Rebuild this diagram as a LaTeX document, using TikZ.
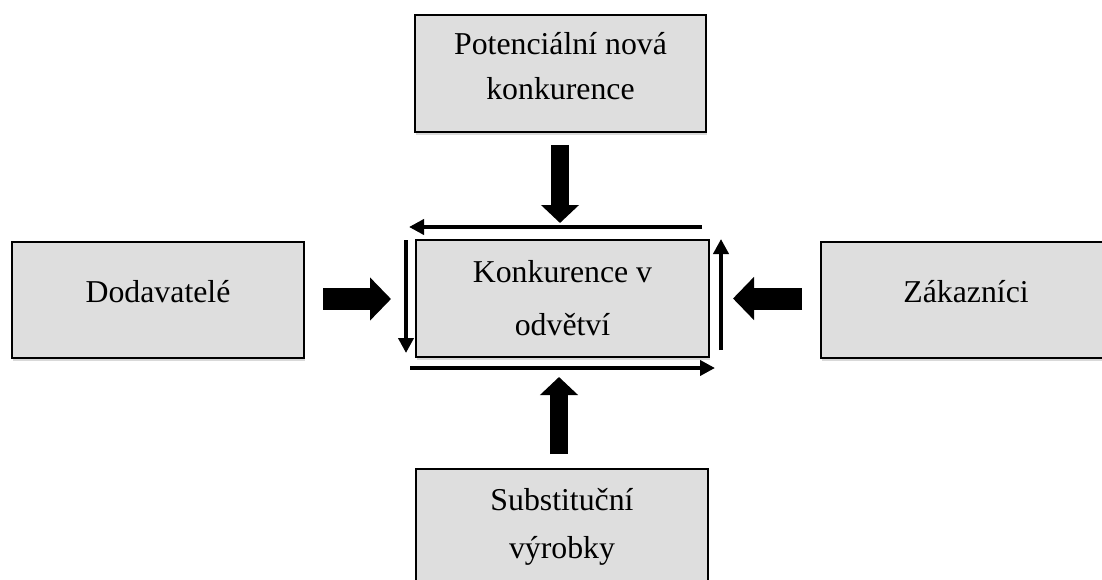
\documentclass[tikz,border=0pt]{standalone}
\usepackage{fontspec}
\setmainfont{Liberation Serif}
\usetikzlibrary{arrows.meta,shadows}
\definecolor{boxgray}{RGB}{222,222,222}
\tikzset{
  box/.style={draw=black, line width=1.6pt, fill=boxgray, inner sep=0pt,
    drop shadow={shadow xshift=1pt, shadow yshift=-3pt, opacity=0.3, fill=gray}},
  txt/.style={font=\fontsize{31.8}{38}\selectfont, inner sep=0pt, anchor=base},
  thinarrow/.style={line width=4pt, -{Triangle[length=15pt,width=15pt]}},
  bigv/.style={line width=18pt, -{Triangle[length=18pt,width=37pt]}},
  bigh/.style={line width=22pt, -{Triangle[length=21pt,width=42pt]}},
}
\begin{document}
\begin{tikzpicture}[x=1pt,y=-1pt]
\useasboundingbox (0,0) rectangle (1102,580);
\begin{scope}
\clip (0,0) rectangle (1102,580);
% boxes
\node[box, minimum width=291pt, minimum height=117pt] (top) at (560.5,73.5) {};
\node[box, minimum width=293pt, minimum height=117pt] (mid) at (562.5,298.5) {};
\node[box, minimum width=292pt, minimum height=116pt] (left) at (158,300) {};
\node[box, minimum width=291pt, minimum height=116pt] (right) at (966.5,300) {};
\node[box, minimum width=292pt, minimum height=117pt] (bot) at (562,527.5) {};
\end{scope}
% texts
\node[txt] (top1) at (560.5,55) {Potenciální nová};
\node[txt] (top2) at (560.5,100) {konkurence};
\node[txt] (mid1) at (562.5,282) {Konkurence v};
\node[txt] (mid2) at (562.5,335) {odvětví};
\node[txt] (leftt) at (158,302) {Dodavatelé};
\node[txt] (rightt) at (966,302) {Zákazníci};
\node[txt] (bot1) at (562,510) {Substituční};
\node[txt] (bot2) at (562,558) {výrobky};
% thick arrows
\coordinate (tS) at (560,145);   \coordinate (tE) at (560,223);
\coordinate (lS) at (323,299);   \coordinate (lE) at (391,299);
\coordinate (rS) at (802,298.5); \coordinate (rE) at (733,298.5);
\coordinate (bS) at (559,454);   \coordinate (bE) at (559,377);
\draw[bigv] (tS) -- (tE);
\draw[bigh] (lS) -- (lE);
\draw[bigh] (rS) -- (rE);
\draw[bigv] (bS) -- (bE);
% thin circulating arrows
\coordinate (a1) at (702,227); \coordinate (a2) at (409,227);
\coordinate (b1) at (406,240); \coordinate (b2) at (406,353);
\coordinate (c1) at (410,368); \coordinate (c2) at (715,368);
\coordinate (d1) at (721,350); \coordinate (d2) at (721,239);
\draw[thinarrow] (a1) -- (a2);
\draw[thinarrow] (b1) -- (b2);
\draw[thinarrow] (c1) -- (c2);
\draw[thinarrow] (d1) -- (d2);
\end{tikzpicture}
\end{document}
